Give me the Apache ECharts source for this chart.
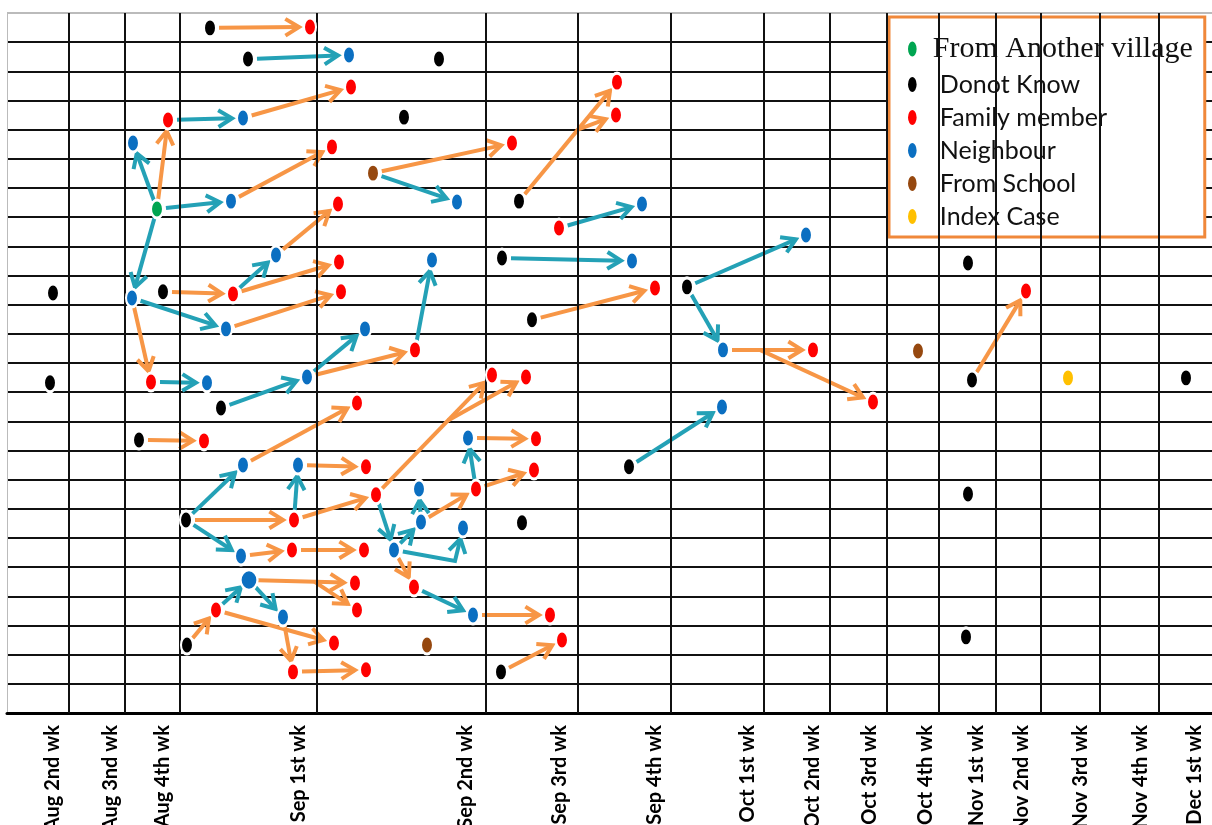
<!DOCTYPE html>
<html><head><meta charset="utf-8">
<script src="https://cdn.jsdelivr.net/npm/echarts@6/dist/echarts.min.js"></script>
<style>html,body{margin:0;padding:0;background:#fff}#c{width:1212px;height:825px}</style>
</head><body><div id="c"></div>
<script>
// ---- data ----
const weekLabels = ['Aug 2nd wk','Aug 3nd wk','Aug 4th wk','Sep 1st wk','Sep 2nd wk','Sep 3rd wk','Sep 4th wk','Oct 1st wk','Oct 2nd wk','Oct 3rd wk','Oct 4th wk','Nov 1st wk','Nov 2nd wk','Nov 3rd wk','Nov 4th wk','Dec 1st wk'];
const weekLabelPos = [53,111,163,299,466,560,655,748,813,870,926,977,1022,1081,1141,1195];
const columnBounds = [69,125,180,317,486,578,671,764,830,887,939,996,1041,1100,1159];

// case nodes: horizontal position, row position, source type
const nodeX = [210,310,248,349,439,351,168,243,404,133,332,373,512,457,157,231,519,617,616,338,
  559,642,276,339,432,502,632,53,132,163,233,341,655,687,806,968,1026,226,365,532,
  415,723,813,918,50,151,207,307,492,526,972,1068,1186,221,357,873,722,139,204,468,
  536,243,298,366,534,629,376,419,476,968,186,294,421,463,522,241,292,364,394,249,
  355,414,216,283,357,473,550,562,187,334,427,966,293,366,501];
const nodeRow = [0.51,0.48,1.58,1.44,1.58,2.54,3.67,3.60,3.57,4.46,4.59,5.49,4.46,6.48,6.72,6.45,6.45,2.37,3.50,6.55,
  7.37,6.55,8.30,8.54,8.47,8.40,8.50,9.60,9.77,9.56,9.63,9.56,9.43,9.39,7.61,8.57,9.53,10.83,10.83,10.52,
  11.55,11.55,11.55,11.59,12.68,12.65,12.68,12.48,12.41,12.48,12.58,12.51,12.51,13.54,13.37,13.34,13.51,14.64,14.67,14.57,
  14.60,15.50,15.50,15.56,15.67,15.56,16.52,16.32,16.32,16.49,17.38,17.38,17.45,17.66,17.48,18.62,18.41,18.41,18.41,19.44,
  19.54,19.68,20.47,20.71,20.47,20.64,20.64,21.50,21.67,21.60,21.67,21.39,22.59,22.52,22.59];
const nodeType = ['D','F','D','N','D','F','F','N','D','N','F','S','F','N','V','N','D','F','F','F',
  'F','N','N','F','N','D','N','D','N','D','F','F','F','D','N','D','F','N','N','D',
  'F','N','F','S','D','F','N','N','F','F','D','I','D','D','F','F','N','D','F','N',
  'F','N','N','F','F','D','F','N','F','D','D','F','N','N','D','N','F','F','N','N',
  'F','F','F','N','F','N','F','F','D','F','S','D','F','F','D'];
const bigNodes = [79];

// transmission links: [from node, to node]
const edges = [[0,1],[2,3],[6,7],[7,5],[14,9],[14,6],[14,15],[14,28],[15,10],[11,12],[11,13],[16,17],
  [22,19],[20,21],[30,22],[25,26],[29,30],[30,23],[28,37],[37,31],[28,45],[39,32],[33,34],[33,41],[41,42],
  [45,46],[53,47],[47,38],[47,40],[40,24],[57,58],[70,61],[70,71],[70,75],[61,54],[71,62],[62,63],[71,66],
  [75,76],[76,77],[66,48],[68,59],[59,60],[68,64],[66,78],[78,72],[72,67],[72,68],[78,81],[81,85],[85,86],
  [94,87],[88,82],[82,79],[79,80],[79,83],[82,89],[83,92],[92,93],[50,36],[65,56]];
// links branching off another link: [target node, base from, base to, fraction along base]
const branches = [[18,16,17,0.6],[55,41,42,0.41],[49,66,48,0.62],[84,79,80,0.62]];
// links with an elbow: [from, to, elbow x, elbow row]
const elbows = [[78,73,455,18.79]];

const typeNames = {V:'From Another village', D:'Donot Know', F:'Family member', N:'Neighbour', S:'From School', I:'Index Case'};
const legendOrder = ['V','D','F','N','S','I'];

// ---- styles ----
const typeColors = {V:'#00a551', D:'#000000', F:'#ff0000', N:'#0b6fc1', S:'#96480f', I:'#ffc000'};
const arrowColors = {F:'#f79646', N:'#24a1b6'};
const ellipse = 'path://M10,0 A10,16 0 1 1 10,32 A10,16 0 1 1 10,0 Z';

// ---- build ----
const arrowList = [];
edges.forEach(([s,t]) => arrowList.push({x1:nodeX[s], y1:nodeRow[s], x2:nodeX[t], y2:nodeRow[t], c:nodeType[t], fromNode:true}));
branches.forEach(([t,bs,bt,f]) => arrowList.push({
  x1: nodeX[bs] + f*(nodeX[bt]-nodeX[bs]), y1: nodeRow[bs] + f*(nodeRow[bt]-nodeRow[bs]),
  x2: nodeX[t], y2: nodeRow[t], c: nodeType[t], fromNode:false}));
elbows.forEach(([s,t,vx,vy]) => arrowList.push({x1:nodeX[s], y1:nodeRow[s], x2:nodeX[t], y2:nodeRow[t], c:nodeType[t], fromNode:true, via:[vx,vy]}));

function move(p, q, d){
  const dx=q[0]-p[0], dy=q[1]-p[1], L=Math.hypot(dx,dy)||1;
  return [p[0]+dx/L*d, p[1]+dy/L*d];
}
function renderArrow(params, api){
  const a = arrowList[params.dataIndex];
  const pts = [api.coord([api.value(0), api.value(1)])];
  if (a.via) pts.push(api.coord(a.via));
  pts.push(api.coord([api.value(2), api.value(3)]));
  if (a.fromNode) pts[0] = move(pts[0], pts[1], 9);
  const n = pts.length;
  pts[n-1] = move(pts[n-1], pts[n-2], 11);
  const tip = pts[n-1], prev = pts[n-2];
  const ang = Math.atan2(tip[1]-prev[1], tip[0]-prev[0]);
  const L = 16, A = 0.55;
  const h1 = [tip[0]-L*Math.cos(ang-A), tip[1]-L*Math.sin(ang-A)];
  const h2 = [tip[0]-L*Math.cos(ang+A), tip[1]-L*Math.sin(ang+A)];
  const color = arrowColors[a.c];
  return {type:'group', children:[
    {type:'polyline', shape:{points:pts}, style:{stroke:color, lineWidth:4, fill:null}},
    {type:'polyline', shape:{points:[h1,tip,h2]}, style:{stroke:color, lineWidth:4, fill:null, lineJoin:'miter'}}
  ]};
}

const scatterSeries = legendOrder.map(t => ({
  type:'scatter', name:typeNames[t], z:5,
  symbol: ellipse, symbolSize:[12,18],
  itemStyle:{color:typeColors[t], borderColor:'#fff', borderWidth:2.5, opacity:1},
  emphasis:{disabled:true},
  data: nodeX.map((x,i)=>({i, t:nodeType[i], v:[x,nodeRow[i]]}))
    .filter(d=>d.t===t)
    .map(d=> bigNodes.includes(d.i) ? {value:d.v, symbolSize:[17,20]} : d.v)
}));

const chart = echarts.init(document.getElementById('c'));
chart.setOption({
  animation:false,
  backgroundColor:'#fff',
  grid:{left:7, right:0, top:13, bottom:112, containLabel:false, outerBoundsMode:'none'},
  xAxis:{type:'value', min:7, max:1212,
    axisLine:{show:true, onZero:false, lineStyle:{color:'#000', width:3}},
    axisTick:{show:false}, splitLine:{show:false},
    axisLabel:{customValues:weekLabelPos, rotate:90, margin:12,
      formatter:v=>weekLabels[weekLabelPos.indexOf(v)] || '',
      fontFamily:'Lato', fontWeight:'bold', fontSize:20, color:'#000'}},
  yAxis:{type:'value', inverse:true, min:0, max:24, interval:1,
    axisLabel:{show:false}, axisTick:{show:false},
    axisLine:{show:true, lineStyle:{color:'#bbb', width:1}},
    splitLine:{show:true, lineStyle:{width:2, color:['#bbb'].concat(Array(24).fill('#111'))}}},
  legend:{orient:'vertical', left:889, top:17, backgroundColor:'#fff',
    borderColor:'#f0883a', borderWidth:3, padding:[17,12,8,17], itemGap:8,
    itemWidth:11, itemHeight:17, icon:ellipse,
    textStyle:{fontFamily:'Lato', fontSize:25, color:'#111', padding:[0,0,0,17]},
    data:legendOrder.map((t,k)=> k===0 ? {name:typeNames[t], textStyle:{fontFamily:'Liberation Serif', fontSize:30, color:'#111', padding:[0,0,0,10]}} : {name:typeNames[t]})},
  series:[
    {type:'line', data:[], silent:true, z:1,
      markLine:{symbol:'none', silent:true, animation:false, label:{show:false},
        lineStyle:{color:'#111', width:2, type:'solid'},
        data:columnBounds.map(v=>({xAxis:v}))}},
    {type:'custom', z:3, silent:true, renderItem:renderArrow,
      encode:{x:[0,2], y:[1,3]},
      data:arrowList.map(a=>[a.x1,a.y1,a.x2,a.y2])}
  ].concat(scatterSeries)
});
</script></body></html>
